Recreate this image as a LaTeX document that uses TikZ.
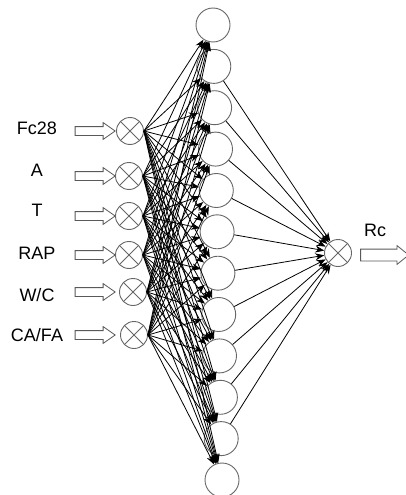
\documentclass[tikz,border=0pt]{standalone}
\usepackage{fontspec}
\setmainfont{Liberation Sans}
\usetikzlibrary{shapes.arrows,arrows.meta}
\begin{document}
\begin{tikzpicture}[x=1pt,y=-1pt,
  hid/.style={circle, draw=black!60, line width=0.9pt, minimum size=34pt, inner sep=0pt},
  xnode/.style={circle, draw=black!60, line width=0.9pt, minimum size=27pt, inner sep=0pt,
    path picture={\draw[black!60, line width=0.8pt]
      (path picture bounding box.north west) -- (path picture bounding box.south east)
      (path picture bounding box.north east) -- (path picture bounding box.south west);}},
  inarrow/.style={single arrow, draw=black!65, fill=white, line width=0.8pt,
    minimum height=40pt, inner xsep=0pt, inner ysep=4pt, single arrow head extend=4pt,
    single arrow tip angle=70},
  outarrow/.style={inarrow, minimum height=48pt, inner ysep=5.5pt,
    single arrow head extend=3.5pt, single arrow tip angle=78},
  lbl/.style={font=\fontsize{18}{21}\selectfont, inner sep=0pt},
  conn/.style={line width=0.8pt, -{Stealth[length=9pt,width=7pt]}}
]
\useasboundingbox (0,0) rectangle (406,495);
% hidden layer
\foreach \i/\x/\y in {1/213/25, 2/213.8/66.4, 3/214.6/107.7, 4/215.5/149.1,
  5/216.3/190.5, 6/217.1/231.8, 7/217.9/273.2, 8/218.7/314.5, 9/219.5/355.9,
  10/220.4/397.3, 11/221.2/438.6, 12/222/480}
  \node[hid] (h\i) at (\x,\y) {};
% inputs
\foreach \i/\t/\ly/\x/\y in {1/Fc28/128/130/131, 2/A/170/129/176, 3/T/210/129/216,
  4/RAP/253/129/255, 5/W\slash C/295/133/292, 6/CA\slash FA/335/134/335}
{
  \node[lbl] (l\i) at (37,\ly) {\t};
  \node[inarrow] (a\i) at (92,\y) {};
  \node[xnode] (x\i) at (\x,\y) {};
}
% output
\node[xnode] (out) at (338,253) {};
\node[outarrow] (ao) at (381,255) {};
\node[lbl] (rc) at (375,230) {Rc};
% connections
\foreach \a in {1,...,6}
  \foreach \b in {1,...,12}
    \draw[conn] (x\a.east) -- (h\b);
\foreach \b in {2,...,11}
  \draw[conn] (h\b) -- (out);
\end{tikzpicture}
\end{document}
